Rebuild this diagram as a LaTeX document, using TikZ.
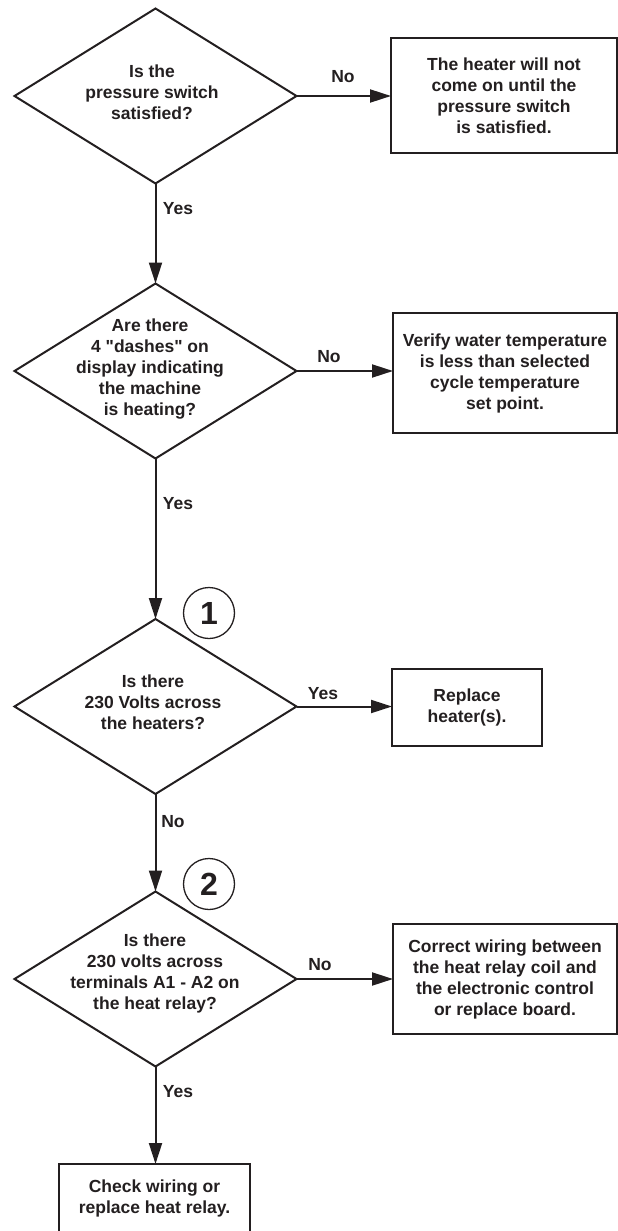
\documentclass[tikz,border=0pt]{standalone}
\usepackage{fontspec}
\setmainfont{Liberation Sans}[Ligatures=TeXOff]
\usetikzlibrary{shapes.geometric,arrows.meta}
\definecolor{ink}{RGB}{35,31,32}
\begin{document}
\begin{tikzpicture}[x=1pt,y=-1pt,
  every node/.style={text=ink, font=\fontsize{17.5}{21}\selectfont\bfseries},
  dia/.style={diamond, draw=ink, line width=2pt, minimum width=282pt, minimum height=175pt, inner sep=0pt, outer sep=0pt},
  txt/.style={align=center, inner sep=0pt},
  box/.style={rectangle, draw=ink, line width=2pt, align=center, inner sep=0pt, outer sep=0pt},
  thinbox/.style={box, line width=1.3pt},
  lbl/.style={inner sep=0pt},
  num/.style={circle, draw=ink, line width=1.3pt, minimum size=51pt, inner sep=0pt, font=\fontsize{32}{32}\selectfont\bfseries},
  arr/.style={draw=ink, line width=2pt, -{Triangle[length=21pt,width=13pt]}}
]
\useasboundingbox (0,0) rectangle (618,1231);

% decision 1
\node[dia] (d1) at (155.5,96) {};
\node[txt] (t1) at (152,92) {Is the\\pressure switch\\satisfied?};
\node[box, minimum width=226pt, minimum height=115pt] (b1) at (504,95.5) {The heater will not\\come on until the\\pressure switch\\is satisfied.};
\node[lbl] (n1) at (343,77) {No};

% decision 2
\node[dia] (d2) at (155.5,371) {};
\node[txt] (t2) at (150,369) {Are there\\4 "dashes" on\\display indicating\\the machine\\is heating?};
\node[box, minimum width=224pt, minimum height=120pt] (b2) at (505,373) {Verify water temperature\\is less than selected\\cycle temperature\\set point.};
\node[lbl] (n2) at (329,357) {No};
\node[lbl] (y1) at (178,209) {Yes};

% decision 3
\node[dia] (d3) at (155.5,706.5) {};
\node[txt] (t3) at (153,702) {Is there\\230 Volts across\\the heaters?};
\node[thinbox, minimum width=150pt, minimum height=77pt] (b3) at (467,707.5) {Replace\\heater(s).};
\node[lbl] (y3) at (323,694) {Yes};
\node[lbl] (y2) at (178,504) {Yes};
\node[num] (c1) at (209,613) {1};

% decision 4
\node[dia] (d4) at (155.5,979) {};
\node[txt] (t4) at (155,973) {Is there\\230 volts across\\terminals A1 - A2 on\\the heat relay?};
\node[box, minimum width=224pt, minimum height=110pt] (b4) at (505,979) {Correct wiring between\\the heat relay coil and\\the electronic control\\or replace board.};
\node[lbl] (n4) at (320,965) {No};
\node[lbl] (n3) at (173,822) {No};
\node[num] (c2) at (209,884) {2};

% final
\node[thinbox, minimum width=191pt, minimum height=68pt] (b5) at (154.5,1198) {Check wiring or\\replace heat relay.};
\node[lbl] (y4) at (178,1092) {Yes};

% connectors
\draw[arr] (d1.east) -- (d1.east -| b1.west);
\draw[arr] (d1.south) -- (d2.north);
\draw[arr] (d2.east) -- (d2.east -| b2.west);
\draw[arr] (d2.south) -- (d3.north);
\draw[arr] (d3.east) -- (d3.east -| b3.west);
\draw[arr] (d3.south) -- (d4.north);
\draw[arr] (d4.east) -- (d4.east -| b4.west);
\draw[arr] (d4.south) -- (d4.south |- b5.north);
\end{tikzpicture}
\end{document}
